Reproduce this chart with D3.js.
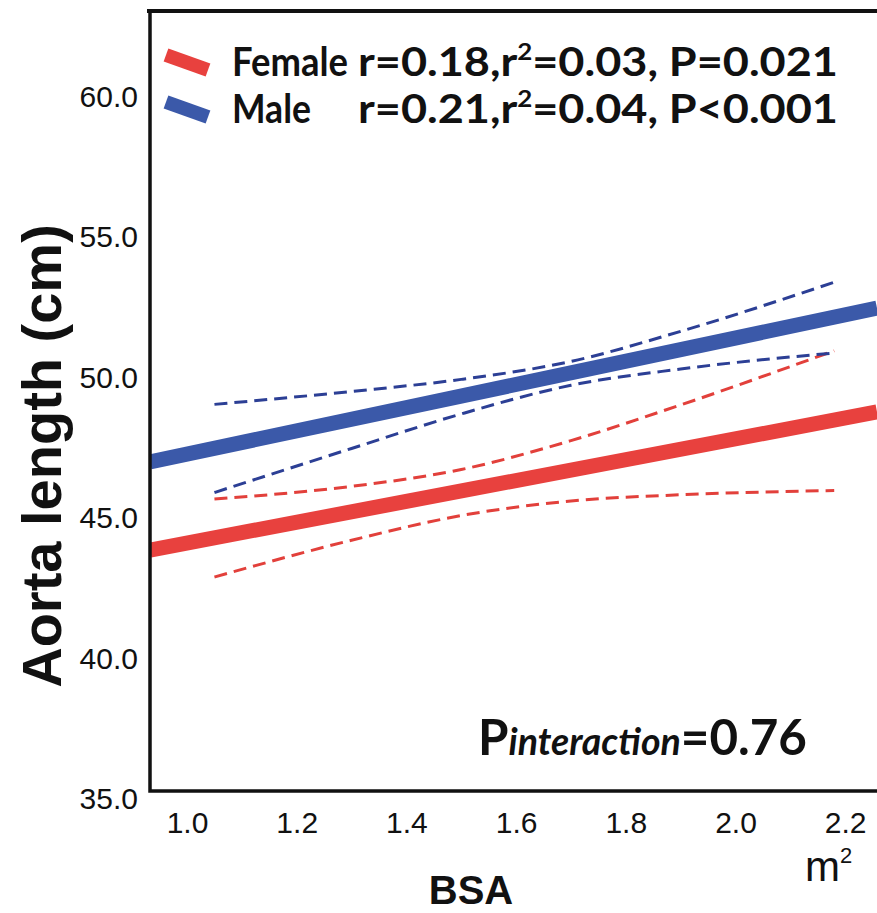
<!DOCTYPE html>
<html><head><meta charset="utf-8">
<script src="https://cdn.jsdelivr.net/npm/d3@7/dist/d3.min.js"></script>
<style>
html,body{margin:0;padding:0;background:#fff;}
svg{display:block;}
</style></head>
<body>
<svg id="chart" width="877" height="913"></svg>
<script>
// ---- data ----
const xTicks = [1.0, 1.2, 1.4, 1.6, 1.8, 2.0, 2.2];
const yTicks = [35, 40, 45, 50, 55, 60];
const xDomain = [0.9325, 2.258];
const yDomain = [35, 62.78];
const groups = ["Female", "Male"];
const stats = ["r=0.18,r²=0.03, P=0.021", "r=0.21,r²=0.04, P<0.001"];
// fitted regression lines (BSA, aorta length)
const femaleFit = [[0.9325, 43.58], [2.258, 48.50]];
const maleFit = [[0.9325, 46.72], [2.258, 52.20]];
// 95% CI bands
const ciX = [1.05, 1.3, 1.5, 1.7, 1.9, 2.18];
const femaleUpper = [45.40, 45.85, 46.45, 47.48, 48.75, 50.68];
const femaleLower = [42.62, 43.93, 44.81, 45.33, 45.55, 45.70];
const maleUpper = [48.77, 49.23, 49.66, 50.30, 51.37, 53.12];
const maleLower = [45.63, 47.20, 48.43, 49.45, 50.03, 50.60];
const pInteraction = "0.76";

// ---- layout ----
const svg = d3.select("#chart");
const L = 150, T = 11, R = 877, B = 791;
const x = d3.scaleLinear().domain(xDomain).range([L, R]);
const y = d3.scaleLinear().domain(yDomain).range([B, T]);
const RED = "#e8413e", BLUE = "#3b59a9", RED_D = "#e2403b", BLUE_D = "#2c3f95";

svg.append("defs").append("clipPath").attr("id", "clip")
  .append("rect").attr("x", L).attr("y", T).attr("width", R - L).attr("height", B - T);

const plot = svg.append("g").attr("clip-path", "url(#clip)");
const line = d3.line().x(d => x(d[0])).y(d => y(d[1]));
const curve = d3.line().x(d => x(d[0])).y(d => y(d[1])).curve(d3.curveMonotoneX);

function band(vals) { return ciX.map((v, i) => [v, vals[i]]); }

[[femaleUpper, RED_D], [femaleLower, RED_D], [maleUpper, BLUE_D], [maleLower, BLUE_D]].forEach(([v, c]) => {
  plot.append("path").attr("d", curve(band(v))).attr("fill", "none")
    .attr("stroke", c).attr("stroke-width", 3).attr("stroke-dasharray", "13,7");
});
plot.append("path").attr("d", line(femaleFit)).attr("fill", "none").attr("stroke", RED).attr("stroke-width", 15);
plot.append("path").attr("d", line(maleFit)).attr("fill", "none").attr("stroke", BLUE).attr("stroke-width", 15);

// axes
const yAxis = svg.append("g").attr("transform", `translate(${L},0)`)
  .call(d3.axisLeft(y).tickValues(yTicks).tickFormat(d3.format(".1f")).tickSize(0).tickSizeOuter(0).tickPadding(12));
yAxis.select(".domain").remove();
yAxis.selectAll("text").attr("font-family", "Liberation Sans, Arial, sans-serif")
  .attr("font-size", 30).attr("fill", "#111").attr("dy", "0.35em").attr("x", -12)
  .attr("transform", "translate(0,7)");

const xAxis = svg.append("g").attr("transform", `translate(0,${B})`)
  .call(d3.axisBottom(x).tickValues(xTicks).tickFormat(d3.format(".1f")).tickSize(0).tickSizeOuter(0));
xAxis.select(".domain").remove();
xAxis.selectAll("text").attr("font-family", "Liberation Sans, Arial, sans-serif")
  .attr("font-size", 30).attr("fill", "#111").attr("dy", null).attr("y", 42);

// frame lines
svg.append("path").attr("d", `M${L},${T}V${B}H${R}`).attr("fill", "none").attr("stroke", "#111").attr("stroke-width", 3.5);
svg.append("line").attr("x1", L - 3).attr("x2", R).attr("y1", T).attr("y2", T).attr("stroke", "#111").attr("stroke-width", 4);

// helper to fit text width
function fitText(sel, target) {
  const w = sel.node().getComputedTextLength();
  const t = sel.attr("data-t");
  sel.attr("transform", `${t} scale(${target / w},1)`);
}

// legend
const legCol = [RED, BLUE];
const legY = [76, 123];
groups.forEach((g, i) => {
  const cy = legY[i] - 13;
  svg.append("line").attr("x1", 166).attr("y1", cy - 8).attr("x2", 208).attr("y2", cy + 7)
    .attr("stroke", legCol[i]).attr("stroke-width", 14);
  const t1 = svg.append("text").attr("font-family", "Lato, sans-serif").attr("font-weight", 700)
    .attr("font-size", 40).attr("fill", "#111").attr("data-t", `translate(232,${legY[i]})`).text(g);
  fitText(t1, i === 0 ? 116 : 79);
  const parts = stats[i].split("²");
  const t2 = svg.append("text").attr("font-family", "Lato, sans-serif").attr("font-weight", 700)
    .attr("font-size", 40).attr("fill", "#111").attr("data-t", `translate(358,${legY[i]})`);
  t2.append("tspan").text(parts[0]);
  t2.append("tspan").attr("font-size", 23).attr("dy", -16).text("2");
  t2.append("tspan").attr("dy", 16).text(parts[1]);
  fitText(t2, 480);
});

// P interaction
const pt = svg.append("text").attr("font-family", "Lato, sans-serif").attr("font-weight", 700)
  .attr("fill", "#111").attr("data-t", "translate(478,755)");
pt.append("tspan").attr("font-size", 50).text("P");
pt.append("tspan").attr("font-size", 38).attr("font-style", "italic").text("interaction");
pt.append("tspan").attr("font-size", 50).text("=" + pInteraction);
fitText(pt, 329);

// axis titles
svg.append("text").attr("font-family", "Liberation Sans, Arial, sans-serif").attr("font-weight", 700)
  .attr("font-size", 40).attr("fill", "#111").attr("text-anchor", "middle")
  .attr("x", 471).attr("y", 904).text("BSA");
const m2 = svg.append("text").attr("font-family", "Liberation Sans, Arial, sans-serif")
  .attr("font-size", 42).attr("fill", "#111").attr("x", 805).attr("y", 881);
m2.append("tspan").text("m");
m2.append("tspan").attr("font-size", 22).attr("dy", -18).text("2");

svg.append("text").attr("font-family", "Liberation Sans, Arial, sans-serif").attr("font-weight", 700)
  .attr("font-size", 56).attr("fill", "#111").attr("text-anchor", "middle")
  .attr("transform", "translate(61,456) rotate(-90)").text("Aorta length (cm)");
</script>
</body></html>
